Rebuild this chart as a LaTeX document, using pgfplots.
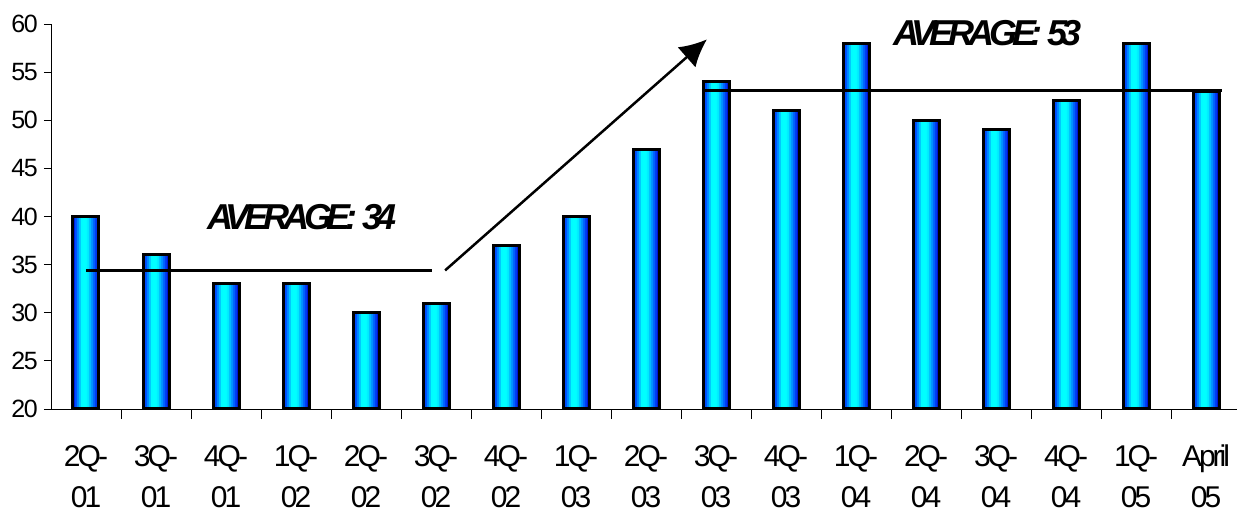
\documentclass[border=0pt]{standalone}
\usepackage{pgfplots}
\pgfplotsset{compat=1.18}
\usepackage{fontspec}
\setmainfont{Liberation Sans}
\newfontfamily\ytickfont[LetterSpace=-6]{Liberation Sans}
\newfontfamily\xtickfont[LetterSpace=-10]{Liberation Sans}
\newfontfamily\notefont[LetterSpace=-15]{Liberation Sans}
\usetikzlibrary{arrows.meta}

% colour strips across a bar: deep blue edges, cyan just left of centre
\definecolor{s0}{RGB}{0,26,218}
\definecolor{s1}{RGB}{0,77,253}
\definecolor{s2}{RGB}{0,134,255}
\definecolor{s3}{RGB}{0,194,255}
\definecolor{s4}{RGB}{0,252,255}
\definecolor{s5}{RGB}{0,255,255}
\definecolor{s6}{RGB}{0,255,255}
\definecolor{s7}{RGB}{0,239,255}
\definecolor{s8}{RGB}{0,194,255}
\definecolor{s9}{RGB}{0,150,255}
\definecolor{s10}{RGB}{0,104,255}
\definecolor{s11}{RGB}{0,62,242}
\definecolor{s12}{RGB}{0,20,214}

% quarterly values
\pgfplotstableread{
x y
0 40
1 36
2 33
3 33
4 30
5 31
6 37
7 40
8 47
9 54
10 51
11 58
12 50
13 49
14 52
15 58
16 53
}\quarterly

\pgfplotsset{strip/.style={ybar, draw=none, bar width=2.4pt}}

\begin{document}
\begin{tikzpicture}
\begin{axis}[
  scale only axis,
  width=1186pt, height=385pt,
  xmin=-0.5, xmax=16.443,
  ymin=20, ymax=60,
  axis x line*=bottom, axis y line*=left,
  axis line style={line width=0.9pt, black},
  ytick={20,25,...,60},
  xtick={0,...,16},
  xticklabels={{2Q-\\01},{3Q-\\01},{4Q-\\01},{1Q-\\02},{2Q-\\02},{3Q-\\02},{4Q-\\02},{1Q-\\03},{2Q-\\03},{3Q-\\03},{4Q-\\03},{1Q-\\04},{2Q-\\04},{3Q-\\04},{4Q-\\04},{1Q-\\05},{April\\05}},
  minor xtick={0.5,1.5,...,15.5},
  tick align=outside,
  major tick length=7pt,
  minor tick length=10pt,
  major x tick style={draw=none},
  tick style={line width=0.9pt, black},
  /pgf/number format/assume math mode=true,
  yticklabel style={font=\ytickfont\fontsize{25}{25}\selectfont, inner sep=0pt, anchor=east, xshift=-6pt},
  xticklabel style={font=\xtickfont\fontsize{30}{41}\selectfont, align=center, inner sep=0pt, anchor=north, yshift=-29pt},
  clip=false,
]
\coordinate (sw) at (rel axis cs:0,0);
% gradient fill of the bars, built from narrow vertical strips
\addplot[strip, fill=s0,  bar shift=-12pt] table[x=x, y=y] {\quarterly};
\addplot[strip, fill=s1,  bar shift=-10pt] table[x=x, y=y] {\quarterly};
\addplot[strip, fill=s2,  bar shift=-8pt]  table[x=x, y=y] {\quarterly};
\addplot[strip, fill=s3,  bar shift=-6pt]  table[x=x, y=y] {\quarterly};
\addplot[strip, fill=s4,  bar shift=-4pt]  table[x=x, y=y] {\quarterly};
\addplot[strip, fill=s5,  bar shift=-2pt]  table[x=x, y=y] {\quarterly};
\addplot[strip, fill=s6,  bar shift=0pt]   table[x=x, y=y] {\quarterly};
\addplot[strip, fill=s7,  bar shift=2pt]   table[x=x, y=y] {\quarterly};
\addplot[strip, fill=s8,  bar shift=4pt]   table[x=x, y=y] {\quarterly};
\addplot[strip, fill=s9,  bar shift=6pt]   table[x=x, y=y] {\quarterly};
\addplot[strip, fill=s10, bar shift=8pt]   table[x=x, y=y] {\quarterly};
\addplot[strip, fill=s11, bar shift=10pt]  table[x=x, y=y] {\quarterly};
\addplot[strip, fill=s12, bar shift=12pt]  table[x=x, y=y] {\quarterly};
% bar outlines
\addplot[ybar, bar width=26pt, bar shift=0pt, draw=black, line width=3pt, fill=none]
  table[x=x, y=y] {\quarterly};
% average levels
\addplot[black, line width=3pt] coordinates {(0,34.4) (4.94,34.4)};
\addplot[black, line width=3pt] coordinates {(8.84,53.1) (16.23,53.1)};
% trend arrow
\addplot[black, line width=2.5pt, -{Latex[length=27pt,width=27pt]}] coordinates {(5.13,34.4) (8.87,58.4)};
\node[anchor=base, font=\notefont\bfseries\itshape\fontsize{36}{36}\selectfont] at (axis cs:3.09,38.7) {AVERAGE: 34};
\node[anchor=base, font=\notefont\bfseries\itshape\fontsize{36}{36}\selectfont] at (axis cs:12.88,57.8) {AVERAGE: 53};
\end{axis}
\pgfresetboundingbox
\path (sw) ++(-51pt,-104pt) rectangle ++(1237pt,513pt);
\end{tikzpicture}
\end{document}
